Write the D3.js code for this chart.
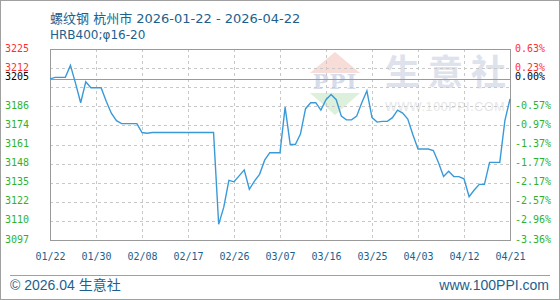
<!DOCTYPE html>
<html>
<head>
<meta charset="utf-8">
<script src="https://cdn.jsdelivr.net/npm/d3@7"></script>
<style>
  body { margin: 0; background: #fff; }
  svg { display: block; }
  .mono { font-family: "DejaVu Sans Mono", monospace; font-size: 10px; }
</style>
</head>
<body>
<div id="chart-area"></div>
<script>
// daily prices, 2026-01-22 .. 2026-04-22
const startDay = "2026-01-22";
const prices = [
  3205, 3206, 3206, 3206, 3214, 3202, 3189, 3203, 3199, 3199,
  3199, 3190, 3182, 3177, 3175, 3175, 3175, 3175, 3169, 3168.5,
  3169, 3169, 3169, 3169, 3169, 3169, 3169, 3169, 3169, 3169,
  3169, 3169, 3169, 3107.5, 3119, 3137, 3136, 3140, 3144, 3131,
  3136.5, 3141, 3150.5, 3155.5, 3155.5, 3155.5, 3186, 3161, 3161, 3168,
  3185, 3189, 3189, 3184, 3191, 3194.5, 3191, 3180, 3177.5, 3177.5,
  3180, 3189, 3197, 3179, 3176, 3176.5, 3176.5, 3179, 3184, 3182,
  3178, 3167.5, 3158, 3158, 3158, 3157, 3149, 3139.5, 3143, 3139.5,
  3139.5, 3138, 3126, 3130.5, 3134.3, 3134.3, 3149, 3149, 3149, 3177,
  3191.5
];
const xLabels = ["01/22", "01/30", "02/08", "02/17", "02/26", "03/07", "03/16", "03/25", "04/03", "04/12", "04/21"];
const yMin = 3097, yMax = 3225;
const baseValue = 3205;
// bottom to top, one per grid line (blank = hidden)
const leftLabels = ["3097", "3110", "3122", "3135", "3148", "3161", "3174", "3186", "", "3212", "3225"];
const rightLabels = ["-3.36%", "-2.96%", "-2.57%", "-2.17%", "-1.77%", "-1.37%", "-0.97%", "-0.57%", "", "0.23%", "0.63%"];
const baseLabels = ["3205", "0.00%"];

const W = 560, H = 300;
const plot = { left: 50, right: 510, top: 49, bottom: 240 };
const blue = "#1d5f8e";

const parse = d3.timeParse("%Y-%m-%d");
const t0 = parse(startDay);
const data = prices.map((v, i) => ({ date: d3.timeDay.offset(t0, i), value: v }));

const svg = d3.select("#chart-area")
  .append("svg")
  .attr("width", W)
  .attr("height", H);

const x = d3.scaleTime()
  .domain([data[0].date, data[data.length - 1].date])
  .range([plot.left, plot.right]);

const y = d3.scaleLinear()
  .domain([yMin, yMax])
  .range([plot.bottom, plot.top]);

const xTicks = xLabels.map((d, i) => d3.timeDay.offset(t0, i * 9));
const yTicks = leftLabels.map((d, i) => yMin + i * (yMax - yMin) / (leftLabels.length - 1));

// outer frame
svg.append("rect")
  .attr("x", 0.5).attr("y", 0.5)
  .attr("width", W - 1).attr("height", H - 1)
  .attr("fill", "none").attr("stroke", "#a0a0a0");

// title
svg.append("text")
  .attr("x", 50).attr("y", 23)
  .attr("fill", blue)
  .attr("font-family", "'DejaVu Sans', 'Noto Sans CJK SC', sans-serif")
  .attr("font-size", "13px")
  .text("螺纹钢 杭州市 2026-01-22 - 2026-04-22");

svg.append("text")
  .attr("x", 50).attr("y", 39)
  .attr("fill", blue)
  .attr("font-family", "'DejaVu Sans', 'Noto Sans CJK SC', sans-serif")
  .attr("font-size", "12px")
  .text("HRB400;φ16-20");

// watermark
const wm = svg.append("g");
wm.append("polygon")
  .attr("points", "335,52 360,73 310,73")
  .attr("fill", "#f7dcd8");
wm.append("text")
  .attr("x", 335).attr("y", 89)
  .attr("text-anchor", "middle")
  .attr("fill", "#d6dcea")
  .attr("font-family", "'DejaVu Serif', serif")
  .attr("font-weight", "bold")
  .attr("font-size", "21px")
  .attr("letter-spacing", "1px")
  .text("PPI");
wm.append("polygon")
  .attr("points", "310,93 360,93 335,115")
  .attr("fill", "#dcf0dc");
wm.append("text")
  .attr("x", 385).attr("y", 85)
  .attr("fill", "#dde2ec")
  .attr("font-family", "'Noto Sans CJK SC', sans-serif")
  .attr("font-weight", "bold")
  .attr("font-size", "35px")
  .attr("letter-spacing", "8px")
  .text("生意社");
wm.append("text")
  .attr("x", 385).attr("y", 111)
  .attr("fill", "#e6e6e6")
  .attr("font-family", "'Liberation Sans', sans-serif")
  .attr("font-size", "12.5px")
  .attr("letter-spacing", "0.6px")
  .text("WWW.100PPI.COM");

// grid
svg.append("g")
  .selectAll("line")
  .data(xTicks.slice(1, -1))
  .join("line")
  .attr("x1", d => Math.round(x(d)) + 0.5)
  .attr("x2", d => Math.round(x(d)) + 0.5)
  .attr("y1", plot.top).attr("y2", plot.bottom)
  .attr("stroke", "#c8c8c8")
  .attr("stroke-dasharray", "3,3");

svg.append("g")
  .selectAll("line")
  .data(yTicks.slice(1, -1))
  .join("line")
  .attr("x1", plot.left).attr("x2", plot.right)
  .attr("y1", d => Math.round(y(d)) + 0.5)
  .attr("y2", d => Math.round(y(d)) + 0.5)
  .attr("stroke", "#c8c8c8")
  .attr("stroke-dasharray", "3,3");

// base line
svg.append("line")
  .attr("x1", plot.left).attr("x2", plot.right)
  .attr("y1", Math.round(y(baseValue)) + 0.5)
  .attr("y2", Math.round(y(baseValue)) + 0.5)
  .attr("stroke", "#9a9a9a");

// plot frame
svg.append("rect")
  .attr("x", plot.left + 0.5).attr("y", plot.top + 0.5)
  .attr("width", plot.right - plot.left).attr("height", plot.bottom - plot.top)
  .attr("fill", "none").attr("stroke", "#9a9a9a");

// price line
const line = d3.line()
  .x(d => x(d.date))
  .y(d => y(d.value));

svg.append("path")
  .datum(data)
  .attr("fill", "none")
  .attr("stroke", "#3a9ad8")
  .attr("stroke-width", 1.4)
  .attr("d", line);

// y labels
const labelColor = i => i > 8 ? "#ff3030" : "#2eb22e";

svg.append("g")
  .selectAll("text")
  .data(yTicks)
  .join("text")
  .attr("class", "mono")
  .attr("x", 5)
  .attr("y", d => y(d) - 1)
  .attr("dy", "0.35em")
  .attr("fill", (d, i) => labelColor(i))
  .text((d, i) => leftLabels[i]);

svg.append("g")
  .selectAll("text")
  .data(yTicks)
  .join("text")
  .attr("class", "mono")
  .attr("x", 515)
  .attr("y", d => y(d) - 1)
  .attr("dy", "0.35em")
  .attr("fill", (d, i) => labelColor(i))
  .text((d, i) => rightLabels[i]);

svg.append("text")
  .attr("class", "mono")
  .attr("x", 5).attr("y", y(baseValue) - 2)
  .attr("dy", "0.35em")
  .attr("fill", "#000")
  .text(baseLabels[0]);

svg.append("text")
  .attr("class", "mono")
  .attr("x", 515).attr("y", y(baseValue) - 2)
  .attr("dy", "0.35em")
  .attr("fill", "#000")
  .text(baseLabels[1]);

// x axis
const xAxisGroup = svg.append("g")
  .attr("transform", `translate(0, ${plot.bottom})`)
  .call(d3.axisBottom(x)
    .tickValues(xTicks)
    .tickFormat((d, i) => xLabels[i])
    .tickSize(0)
    .tickPadding(13));

xAxisGroup.select(".domain").remove();
xAxisGroup.selectAll("text")
  .attr("class", "mono")
  .attr("fill", blue);

// footer
svg.append("line")
  .attr("x1", 10).attr("x2", 550)
  .attr("y1", 275.5).attr("y2", 275.5)
  .attr("stroke", "#a0a0a0");

svg.append("text")
  .attr("x", 10).attr("y", 290)
  .attr("fill", blue)
  .attr("font-family", "'Liberation Sans', 'Noto Sans CJK SC', sans-serif")
  .attr("font-size", "14px")
  .text("© 2026.04 生意社");

svg.append("text")
  .attr("x", 549).attr("y", 290)
  .attr("text-anchor", "end")
  .attr("fill", blue)
  .attr("font-family", "'Liberation Sans', sans-serif")
  .attr("font-size", "14px")
  .text("www.100PPI.com");
</script>
</body>
</html>
